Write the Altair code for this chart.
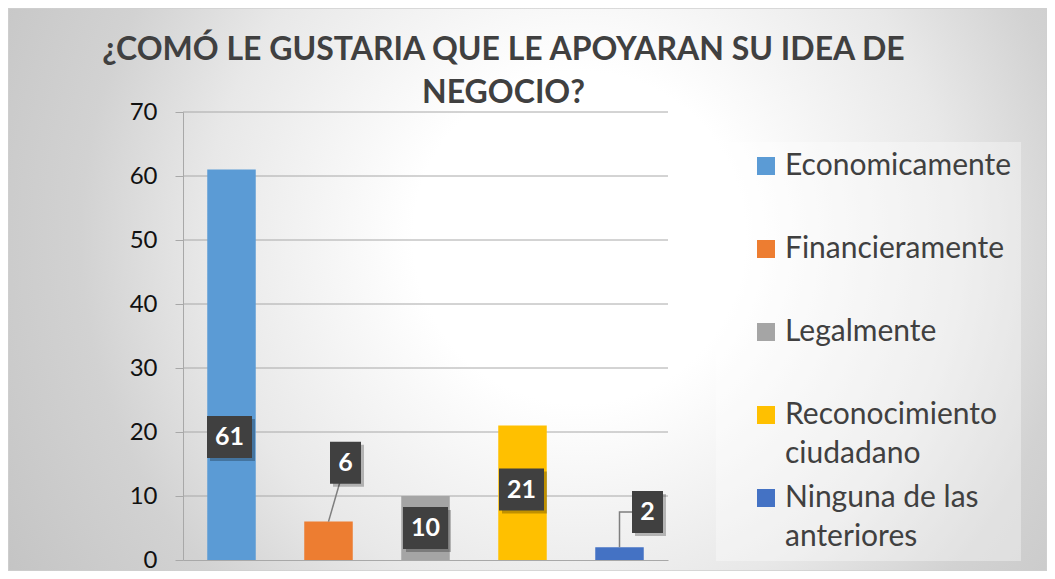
import altair as alt
import pandas as pd

# ---- data ----
categories = ["Economicamente", "Financieramente", "Legalmente",
              "Reconocimiento ciudadano", "Ninguna de las anteriores"]
values = [61, 6, 10, 21, 2]
colors = ["#5B9BD5", "#ED7D31", "#A5A5A5", "#FFC000", "#4472C4"]
label_y = [19.2, 15.2, 5.0, 11.0, 7.5]      # where each data label sits (data units)
label_dx = [-2, 17, 0, -1, 28]              # horizontal nudge of each data label (px)
leader = [False, True, False, False, True]  # labels joined to their bar by a line
y_ticks = [0, 10, 20, 30, 40, 50, 60, 70]
title_lines = ["¿COMÓ LE GUSTARIA QUE LE APOYARAN SU IDEA DE", "NEGOCIO?"]

# ---- layout constants ----
W, H = 485, 448
PAD = {"left": 175, "top": 104, "right": 379, "bottom": 11}
P_IN, P_OUT = 0.5, 0.25
STEP = W / (len(categories) - P_IN + 2 * P_OUT)
HALF_BAND = STEP * (1 - P_IN) / 2
BOX_H = 42
BOX_W = {1: 31, 2: 45}
FONT = "Lato"

df = pd.DataFrame({"cat": categories, "value": values, "ly": label_y,
                   "ldx": label_dx, "txt": [str(v) for v in values]})
df["n"] = df["txt"].str.len()
df["ox"] = df["ldx"] + HALF_BAND
df["sx"] = df["ox"] + 3

# leader lines
rows = []
for c, v, ly, dx, lead, t in zip(categories, values, label_y, label_dx, leader, df["txt"]):
    if not lead:
        continue
    if dx < 20:
        rows += [dict(cat=c, y=v, dx=HALF_BAND, dy=0, o=0),
                 dict(cat=c, y=ly, dx=HALF_BAND + dx, dy=BOX_H / 2, o=1)]
    else:
        rows += [dict(cat=c, y=v, dx=HALF_BAND, dy=0, o=0),
                 dict(cat=c, y=ly, dx=HALF_BAND, dy=0, o=1),
                 dict(cat=c, y=ly, dx=HALF_BAND + dx - BOX_W[len(t)] / 2, dy=0, o=2)]
lead_df = pd.DataFrame(rows)

xs = alt.Scale(domain=categories, paddingInner=P_IN, paddingOuter=P_OUT)
ys = alt.Scale(domain=[0, 70], nice=False)

NB = "\u00a0" * 11
legend_expr = ("datum.label == 'Reconocimiento ciudadano' ? ['Reconocimiento', 'ciudadano'] : "
               "datum.label == 'Ninguna de las anteriores' ? ['Ninguna de las', 'anteriores'] : "
               f"datum.label == 'Economicamente' ? datum.label + '{NB}' : datum.label")

bg = alt.Chart(pd.DataFrame({"a": [0]})).mark_rect(
    fill=alt.Gradient(gradient="radial",
                      stops=[alt.GradientStop(color="#FFFFFF", offset=0),
                             alt.GradientStop(color="#FFFFFF", offset=0.2),
                             alt.GradientStop(color="#E8E8E8", offset=0.45),
                             alt.GradientStop(color="#D2D2D2", offset=0.6),
                             alt.GradientStop(color="#C4C4C4", offset=0.8)],
                      x1=0.55, y1=0.45, r1=0, x2=0.55, y2=0.45, r2=0.8),
    stroke="#D0D0D0", strokeWidth=1.5
).encode(x=alt.value(-PAD["left"]), x2=alt.value(W + PAD["right"]),
         y=alt.value(-PAD["top"]), y2=alt.value(H + PAD["bottom"]))

grid = alt.Chart(pd.DataFrame({"t": y_ticks[1:]})).mark_rule(
    color="#A8A8A8", strokeWidth=1
).encode(y=alt.Y("t:Q", scale=ys), x=alt.value(0), x2=alt.value(W))

bars = alt.Chart(df).mark_bar().encode(
    x=alt.X("cat:N", scale=xs, sort=categories,
            axis=alt.Axis(labels=False, ticks=False, title=None, domainColor="#A8A8A8",
                          domainWidth=1, zindex=1, grid=False)),
    y=alt.Y("value:Q", scale=ys,
            axis=alt.Axis(values=y_ticks, title=None, grid=False, domainColor="#A8A8A8",
                          tickColor="#A8A8A8", tickSize=8, labelFont=FONT, labelFontSize=24,
                          labelColor="#111111", labelPadding=18, zindex=1)),
    color=alt.Color("cat:N", scale=alt.Scale(domain=categories, range=colors), sort=categories,
                    legend=alt.Legend(orient="none", legendX=533, legendY=30, title=None,
                                      symbolType="square", symbolSize=324, symbolStrokeWidth=0,
                                      labelFont=FONT, labelFontSize=30, labelColor="#404040",
                                      labelLimit=600, rowPadding=14, padding=9,
                                      symbolOffset=26, labelOffset=4, gridAlign="all",
                                      fillColor="rgba(255,255,255,0.35)",
                                      labelExpr=legend_expr)),
)

lines = alt.Chart(lead_df).mark_line(color="#7F7F7F", strokeWidth=1.5).encode(
    x=alt.X("cat:N", scale=xs), xOffset=alt.XOffset("dx:Q", scale=None),
    y=alt.Y("y:Q", scale=ys), yOffset=alt.YOffset("dy:Q", scale=None),
    detail="cat:N", order="o:Q")

def box(n, dxfield, color, opacity, yoff=0):
    a = BOX_W[n] / BOX_H
    return alt.Chart(df).transform_filter(f"datum.n == {n}").mark_point(
        shape=f"M-{a:.4f},-1H{a:.4f}V1H-{a:.4f}Z", size=BOX_H ** 2, filled=True,
        color=color, opacity=opacity, yOffset=yoff
    ).encode(x=alt.X("cat:N", scale=xs), xOffset=alt.XOffset(f"{dxfield}:Q", scale=None),
             y=alt.Y("ly:Q", scale=ys))

texts = alt.Chart(df).mark_text(font=FONT, fontWeight="bold", fontSize=25, color="white",
                                align="center", baseline="middle").encode(
    x=alt.X("cat:N", scale=xs), xOffset=alt.XOffset("ox:Q", scale=None),
    y=alt.Y("ly:Q", scale=ys), text="txt:N")

chart = alt.layer(
    bg, grid, bars, lines,
    box(1, "sx", "#000000", 0.25, 3), box(2, "sx", "#000000", 0.25, 3),
    box(1, "ox", "#404040", 1), box(2, "ox", "#404040", 1),
    texts
).properties(
    width=W, height=H, autosize=alt.AutoSizeParams(type="none"), padding=PAD,
    title=alt.TitleParams(text=title_lines, font=FONT, fontSize=32, fontWeight="bold",
                          color="#404040", anchor="middle", dx=78, offset=-103, lineHeight=43)
).configure_view(stroke=None).configure(style={"guide-label": {"lineHeight": 39}})

chart.save("out.html", embed_options={"renderer": "svg", "actions": False})
